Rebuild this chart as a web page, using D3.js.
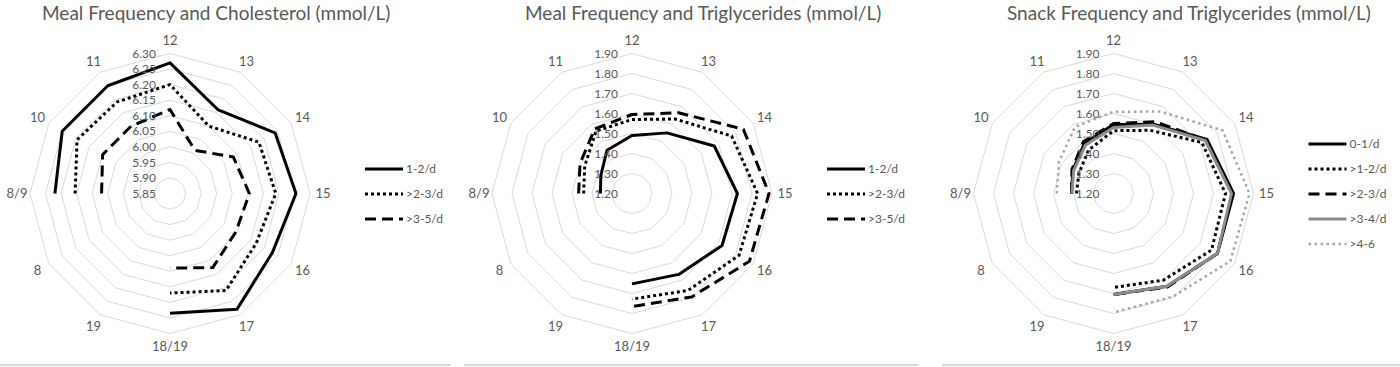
<!DOCTYPE html>
<html>
<head>
<meta charset="utf-8">
<script src="https://cdn.jsdelivr.net/npm/d3@7"></script>
<style>
    body { margin: 0; background: #fff; }
    svg { display: block; }
    text { font-family: Lato, "Open Sans", sans-serif; fill: #595959; }
</style>
</head>
<body>
<svg width="1400" height="367"></svg>
<script>
// categories clockwise from the top
const categories = ["12", "13", "14", "15", "16", "17", "18/19", "19", "8", "8/9", "10", "11"];

const cholTicks = ["5.85", "5.90", "5.95", "6.00", "6.05", "6.10", "6.15", "6.20", "6.25", "6.30"];
const trigTicks = ["1.20", "1.30", "1.40", "1.50", "1.60", "1.70", "1.80", "1.90"];

const mealNames = ["1-2/d", ">2-3/d", ">3-5/d"];
const snackNames = ["0-1/d", ">1-2/d", ">2-3/d", ">3-4/d", ">4-6"];

// Meal frequency and cholesterol
const cholMeal12 = [6.27, 6.16, 6.24, 6.255, 6.23, 6.28, 6.235, null, null, 6.22, 6.25, 6.25];
const cholMeal23 = [6.20, 6.10, 6.18, 6.19, 6.17, 6.21, 6.17, null, null, 6.155, 6.195, 6.19];
const cholMeal35 = [6.12, 6.01, 6.085, 6.105, 6.095, 6.125, 6.09, null, null, 6.07, 6.10, 6.10];

// Meal frequency and triglycerides
const trigMeal12 = [1.49, 1.55, 1.675, 1.727, 1.72, 1.667, 1.652, null, null, 1.358, 1.38, 1.45];
const trigMeal23 = [1.57, 1.63, 1.775, 1.828, 1.818, 1.76, 1.728, null, null, 1.442, 1.473, 1.56];
const trigMeal35 = [1.595, 1.666, 1.843, 1.885, 1.878, 1.797, 1.765, null, null, 1.467, 1.50, 1.573];

// Snack frequency and triglycerides
const trigSnack01 = [1.545, 1.60, 1.74, 1.80, 1.80, 1.735, 1.705, null, null, 1.41, 1.435, 1.49];
const trigSnack12 = [1.514, 1.565, 1.71, 1.76, 1.766, 1.70, 1.67, null, null, 1.385, 1.40, 1.45];
const trigSnack23 = [1.55, 1.615, 1.735, 1.795, 1.80, 1.74, 1.705, null, null, 1.41, 1.44, 1.50];
const trigSnack34 = [1.53, 1.595, 1.73, 1.79, 1.80, 1.735, 1.705, null, null, 1.408, 1.43, 1.48];
const trigSnack46 = [1.609, 1.673, 1.83, 1.88, 1.875, 1.795, 1.795, null, null, 1.484, 1.515, 1.585];

const styles = {
    solid:   { color: "#000000", width: 3, dash: null },
    dotted:  { color: "#000000", width: 3, dash: "3,3" },
    dashed:  { color: "#000000", width: 3, dash: "11,6" },
    gray:    { color: "#8c8c8c", width: 3, dash: null },
    grayDot: { color: "#a6a6a6", width: 2.5, dash: "2.5,3.5" }
};

const svg = d3.select("svg");

const charts = [
    {
        title: "Meal Frequency and Cholesterol (mmol/L)", titleX: 42,
        panel: [0, 451], cx: 170, ticks: cholTicks,
        names: mealNames, series: [cholMeal12, cholMeal23, cholMeal35],
        styles: [styles.solid, styles.dotted, styles.dashed],
        legendY: 169
    },
    {
        title: "Meal Frequency and Triglycerides (mmol/L)", titleX: 525,
        panel: [464, 918], cx: 632, ticks: trigTicks,
        names: mealNames, series: [trigMeal12, trigMeal23, trigMeal35],
        styles: [styles.solid, styles.dotted, styles.dashed],
        legendY: 169
    },
    {
        title: "Snack Frequency and Triglycerides (mmol/L)", titleX: 1007,
        panel: [942, 1400], cx: 1113.5, ticks: trigTicks,
        names: snackNames,
        series: [trigSnack01, trigSnack12, trigSnack23, trigSnack34, trigSnack46],
        styles: [styles.solid, styles.dotted, styles.dashed, styles.gray, styles.grayDot],
        legendY: 144
    }
];

const attr = { cy: 193.5, radius: 140, labelR: 153 };

charts.forEach(c => drawRadar(c));

function drawRadar(c) {
    const g = svg.append("g")
        .attr("transform", `translate(${c.cx},${attr.cy})`);

    const tickVals = c.ticks.map(Number);
    const scR = d3.scaleLinear()
        .domain(d3.extent(tickVals))
        .range([0, attr.radius]);

    const n = categories.length;
    const scA = d3.scaleLinear()
        .domain([0, n])
        .range([0, 2 * Math.PI]);

    // grid rings
    const ring = d3.lineRadial()
        .angle((d, i) => scA(i))
        .radius(d => d)
        .curve(d3.curveLinearClosed);

    g.selectAll(".ring")
        .data(tickVals.slice(1))
        .enter()
        .append("path")
        .attr("d", v => ring(categories.map(() => scR(v))))
        .attr("fill", "none")
        .attr("stroke", "#d9d9d9")
        .attr("stroke-width", 1);

    // category labels
    g.selectAll(".cat")
        .data(categories)
        .enter()
        .append("text")
        .attr("x", (d, i) => attr.labelR * Math.sin(scA(i)))
        .attr("y", (d, i) => -attr.labelR * Math.cos(scA(i)))
        .attr("dy", "0.35em")
        .attr("text-anchor", "middle")
        .style("font-size", "13px")
        .text(d => d);

    // series, drawn from 8/9 round to 18/19
    const start = categories.indexOf("8/9");
    const order = d3.range(n).map(k => (start + k) % n);

    const line = d3.lineRadial()
        .defined(d => d.v != null)
        .angle(d => scA(d.i))
        .radius(d => scR(d.v));

    c.series.forEach((vals, s) => {
        const st = c.styles[s];
        const pts = order.map(i => ({ i: i, v: vals[i] }))
            .filter(d => d.v != null);
        g.append("path")
            .datum(pts)
            .attr("d", line)
            .attr("fill", "none")
            .attr("stroke", st.color)
            .attr("stroke-width", st.width)
            .attr("stroke-dasharray", st.dash)
            .attr("stroke-linejoin", "round");
    });

    // value axis labels
    g.selectAll(".tick")
        .data(c.ticks)
        .enter()
        .append("text")
        .attr("x", -14)
        .attr("y", d => -scR(+d))
        .attr("dy", "0.35em")
        .attr("text-anchor", "end")
        .style("font-size", "12px")
        .text(d => d);

    // title
    svg.append("text")
        .attr("x", c.titleX)
        .attr("y", 20)
        .style("font-size", "19px")
        .text(c.title);

    // legend
    const lg = svg.append("g")
        .attr("transform", `translate(${c.cx + 195},${c.legendY})`);

    c.names.forEach((name, s) => {
        const st = c.styles[s];
        lg.append("line")
            .attr("x1", 0)
            .attr("x2", 38)
            .attr("y1", s * 25)
            .attr("y2", s * 25)
            .attr("stroke", st.color)
            .attr("stroke-width", st.width)
            .attr("stroke-dasharray", st.dash);
        lg.append("text")
            .attr("x", 41)
            .attr("y", s * 25)
            .attr("dy", "0.35em")
            .style("font-size", "12px")
            .text(name);
    });

    // bottom border of the panel
    svg.append("line")
        .attr("x1", c.panel[0])
        .attr("x2", c.panel[1])
        .attr("y1", 365)
        .attr("y2", 365)
        .attr("stroke", "#d9d9d9")
        .attr("stroke-width", 2);
}
</script>
</body>
</html>
